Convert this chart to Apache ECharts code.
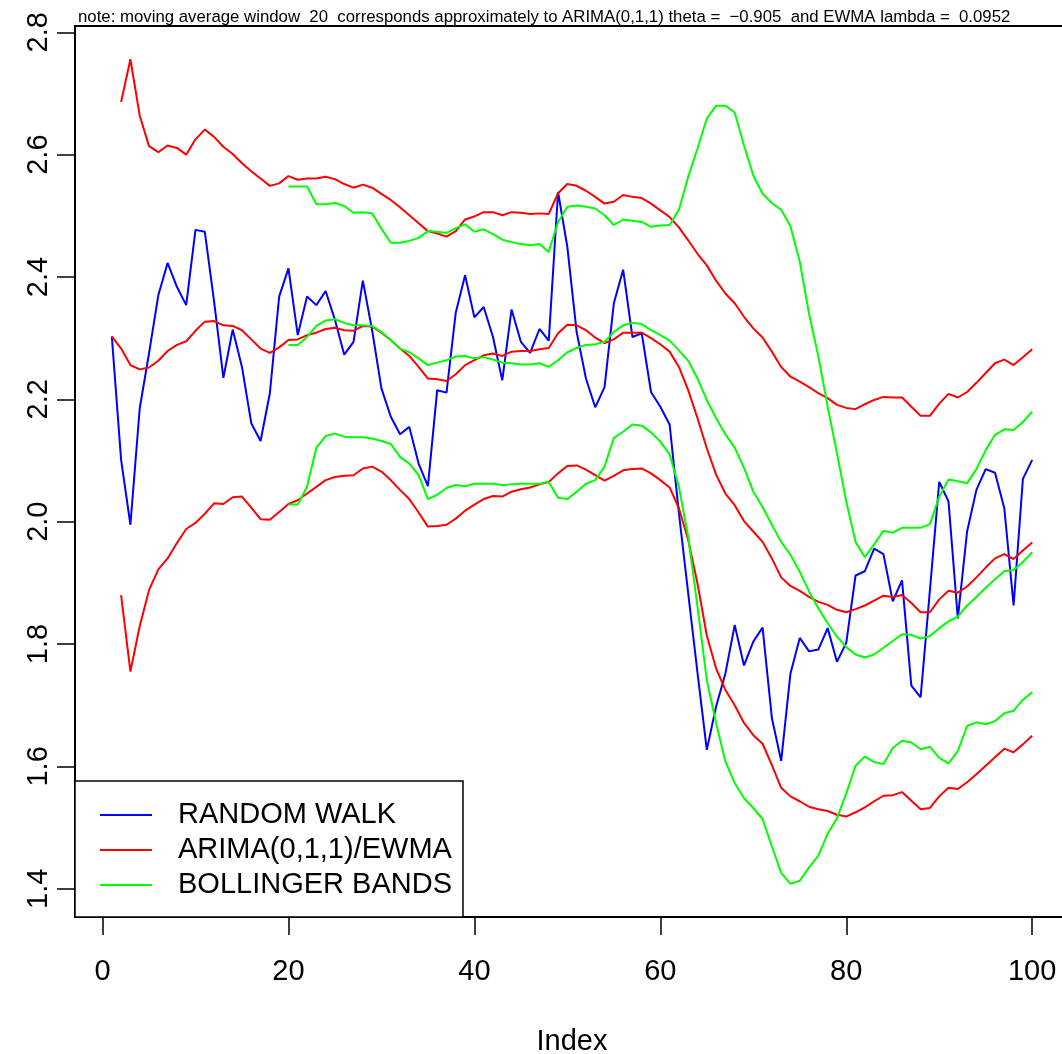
<!DOCTYPE html>
<html><head><meta charset="utf-8">
<script src="https://cdn.jsdelivr.net/npm/echarts@6/dist/echarts.min.js"></script>
<style>html,body{margin:0;padding:0;background:#fff}#c{width:1062px;height:1054px}</style>
</head><body><div id="c"></div>
<script>
const noteText = 'note: moving average window  20  corresponds approximately to ARIMA(0,1,1) theta =  \u22120.905  and EWMA lambda =  0.0952';
const xTicks = [0, 20, 40, 60, 80, 100];
const yTicks = [1.4, 1.6, 1.8, 2.0, 2.2, 2.4, 2.6, 2.8];
const legendNames = ['RANDOM WALK', 'ARIMA(0,1,1)/EWMA', 'BOLLINGER BANDS'];

// random walk, index 1..100
const rwStart = 1;
const randomWalk = [
 2.303, 2.101, 1.995, 2.185, 2.275, 2.370, 2.423, 2.384, 2.354, 2.477,
 2.474, 2.360, 2.235, 2.314, 2.253, 2.161, 2.132, 2.210, 2.368, 2.414,
 2.305, 2.368, 2.354, 2.377, 2.330, 2.273, 2.294, 2.394, 2.313, 2.218,
 2.172, 2.143, 2.155, 2.095, 2.058, 2.215, 2.211, 2.342, 2.403, 2.334,
 2.351, 2.302, 2.231, 2.347, 2.294, 2.276, 2.315, 2.296, 2.539, 2.449,
 2.310, 2.234, 2.187, 2.220, 2.357, 2.412, 2.302, 2.308, 2.212, 2.188,
 2.159, 2.014, 1.883, 1.753, 1.627, 1.698, 1.752, 1.831, 1.765, 1.804,
 1.827, 1.679, 1.609, 1.752, 1.810, 1.788, 1.791, 1.826, 1.771, 1.802,
 1.912, 1.919, 1.956, 1.947, 1.870, 1.904, 1.732, 1.713, 1.888, 2.065,
 2.033, 1.842, 1.984, 2.052, 2.086, 2.080, 2.022, 1.863, 2.070, 2.101
];

// EWMA forecast, index 1..100
const ewmaStart = 1;
const ewma = [
 2.303, 2.283, 2.256, 2.249, 2.252, 2.263, 2.279, 2.289, 2.295, 2.312,
 2.327, 2.328, 2.321, 2.320, 2.313, 2.298, 2.283, 2.276, 2.285, 2.297,
 2.298, 2.305, 2.309, 2.315, 2.317, 2.313, 2.312, 2.320, 2.319, 2.309,
 2.297, 2.283, 2.271, 2.253, 2.234, 2.233, 2.230, 2.241, 2.256, 2.264,
 2.272, 2.275, 2.271, 2.278, 2.279, 2.279, 2.282, 2.284, 2.308, 2.322,
 2.321, 2.313, 2.301, 2.292, 2.298, 2.309, 2.309, 2.309, 2.300, 2.290,
 2.278, 2.253, 2.215, 2.169, 2.120, 2.077, 2.046, 2.027, 2.001, 1.984,
 1.967, 1.940, 1.909, 1.895, 1.887, 1.877, 1.869, 1.864, 1.856, 1.852,
 1.857, 1.863, 1.871, 1.879, 1.877, 1.880, 1.867, 1.852, 1.852, 1.873,
 1.887, 1.884, 1.894, 1.909, 1.925, 1.940, 1.947, 1.939, 1.953, 1.966
];

// EWMA limits, index 2..100
const ewmaBandStart = 2;
const ewmaUpper = [
 2.686, 2.756, 2.664, 2.614, 2.604, 2.615, 2.611, 2.600, 2.625,
 2.641, 2.629, 2.613, 2.601, 2.586, 2.573, 2.561, 2.549, 2.553, 2.565,
 2.559, 2.561, 2.561, 2.564, 2.560, 2.552, 2.546, 2.551, 2.546, 2.536,
 2.526, 2.514, 2.501, 2.488, 2.475, 2.471, 2.466, 2.475, 2.494, 2.499,
 2.506, 2.506, 2.501, 2.506, 2.505, 2.503, 2.504, 2.503, 2.537, 2.552,
 2.549, 2.541, 2.531, 2.520, 2.523, 2.534, 2.531, 2.529, 2.520, 2.509,
 2.498, 2.481, 2.460, 2.438, 2.419, 2.394, 2.373, 2.357, 2.335, 2.316,
 2.301, 2.278, 2.253, 2.237, 2.229, 2.220, 2.210, 2.202, 2.191, 2.186,
 2.184, 2.192, 2.199, 2.204, 2.203, 2.203, 2.188, 2.173, 2.173, 2.193,
 2.209, 2.203, 2.212, 2.227, 2.243, 2.259, 2.265, 2.256, 2.269, 2.282
];
const ewmaLower = [
 1.880, 1.755, 1.829, 1.888, 1.922, 1.940, 1.965, 1.988, 1.998,
 2.013, 2.030, 2.029, 2.040, 2.041, 2.023, 2.004, 2.003, 2.016, 2.029,
 2.035, 2.046, 2.057, 2.068, 2.073, 2.075, 2.076, 2.087, 2.090, 2.082,
 2.068, 2.052, 2.037, 2.015, 1.992, 1.993, 1.995, 2.005, 2.018, 2.028,
 2.037, 2.042, 2.041, 2.049, 2.053, 2.056, 2.061, 2.065, 2.079, 2.091,
 2.092, 2.085, 2.076, 2.067, 2.075, 2.084, 2.086, 2.087, 2.079, 2.068,
 2.056, 2.022, 1.970, 1.899, 1.814, 1.760, 1.725, 1.700, 1.671, 1.651,
 1.637, 1.602, 1.565, 1.551, 1.543, 1.534, 1.530, 1.527, 1.521, 1.518,
 1.525, 1.533, 1.543, 1.552, 1.553, 1.558, 1.544, 1.530, 1.532, 1.551,
 1.565, 1.563, 1.574, 1.587, 1.601, 1.615, 1.629, 1.623, 1.636, 1.650
];

// Bollinger bands, index 20..100
const bbStart = 20;
const bbMiddle = [
 2.289, 2.289, 2.302, 2.320, 2.329, 2.331, 2.325, 2.321, 2.321, 2.320,
 2.310, 2.297, 2.283, 2.277, 2.267, 2.256, 2.260, 2.264, 2.270, 2.271,
 2.267, 2.269, 2.265, 2.260, 2.259, 2.257, 2.257, 2.259, 2.253, 2.264,
 2.277, 2.284, 2.289, 2.290, 2.294, 2.310, 2.321, 2.325, 2.323, 2.313,
 2.305, 2.296, 2.280, 2.263, 2.234, 2.199, 2.169, 2.143, 2.121, 2.088,
 2.049, 2.024, 1.995, 1.967, 1.946, 1.918, 1.886, 1.858, 1.834, 1.812,
 1.795, 1.783, 1.778, 1.783, 1.794, 1.805, 1.816, 1.815, 1.809, 1.813,
 1.826, 1.837, 1.845, 1.863, 1.877, 1.892, 1.906, 1.919, 1.921, 1.934,
 1.950
];
const bbUpper = [
 2.548, 2.548, 2.548, 2.519, 2.519, 2.521, 2.516, 2.505, 2.506, 2.504,
 2.479, 2.456, 2.456, 2.459, 2.464, 2.475, 2.474, 2.472, 2.480, 2.486,
 2.474, 2.478, 2.470, 2.461, 2.457, 2.454, 2.452, 2.454, 2.441, 2.490,
 2.515, 2.517, 2.515, 2.512, 2.501, 2.485, 2.494, 2.492, 2.490, 2.482,
 2.484, 2.485, 2.510, 2.564, 2.610, 2.659, 2.680, 2.680, 2.669, 2.615,
 2.566, 2.536, 2.521, 2.510, 2.483, 2.425, 2.340, 2.270, 2.188, 2.112,
 2.033, 1.967, 1.942, 1.963, 1.985, 1.982, 1.990, 1.990, 1.990, 1.996,
 2.041, 2.069, 2.066, 2.063, 2.086, 2.117, 2.142, 2.151, 2.150, 2.163,
 2.180
];
const bbLower = [
 2.028, 2.028, 2.057, 2.121, 2.140, 2.144, 2.139, 2.138, 2.138, 2.136,
 2.132, 2.127, 2.106, 2.095, 2.076, 2.037, 2.044, 2.055, 2.060, 2.058,
 2.062, 2.062, 2.062, 2.060, 2.061, 2.062, 2.062, 2.062, 2.065, 2.039,
 2.037, 2.049, 2.062, 2.068, 2.090, 2.137, 2.147, 2.159, 2.157, 2.146,
 2.131, 2.110, 2.057, 1.975, 1.861, 1.741, 1.671, 1.608, 1.573, 1.548,
 1.532, 1.514, 1.469, 1.426, 1.408, 1.413, 1.435, 1.454, 1.490, 1.515,
 1.556, 1.601, 1.616, 1.607, 1.604, 1.630, 1.642, 1.639, 1.628, 1.632,
 1.614, 1.605, 1.625, 1.666, 1.672, 1.669, 1.674, 1.687, 1.691, 1.709,
 1.721
];

function pairs(arr, start) { return arr.map((v, k) => [start + k, v]); }

const FONT = '"Liberation Sans", Helvetica, Arial, sans-serif';
const BLUE = '#0000ff', RED = '#ff0000', GREEN = '#00ff00';

function line(name, color, arr, start) {
  return {
    type: 'line', name: name, data: pairs(arr, start),
    symbol: 'none', showSymbol: false, smooth: false,
    lineStyle: { color: color, width: 2 }, itemStyle: { color: color },
    emphasis: { disabled: true }, silent: true, animation: false
  };
}

const chart = echarts.init(document.getElementById('c'), null, { renderer: 'canvas' });
chart.setOption({
  backgroundColor: '#ffffff',
  animation: false,
  title: {
    text: noteText, left: 73, top: 4,
    textStyle: { fontFamily: FONT, fontSize: 16.8, fontWeight: 'normal', color: '#000' }
  },
  grid: {
    left: 75, top: 26, width: 994, height: 891,
    show: true, borderColor: '#000', borderWidth: 2, backgroundColor: 'transparent',
    containLabel: false, outerBoundsMode: 'none'
  },
  xAxis: {
    type: 'value', min: -2.96, max: 103.96,
    name: 'Index', nameLocation: 'middle', nameGap: 110,
    nameTextStyle: { fontFamily: FONT, fontSize: 29, color: '#000' },
    axisLine: { show: false, onZero: false },
    axisTick: { show: true, customValues: xTicks, length: 18, inside: false, lineStyle: { color: '#000', width: 1.5 } },
    axisLabel: { show: true, customValues: xTicks, margin: 40, fontFamily: FONT, fontSize: 29, color: '#000' },
    splitLine: { show: false }
  },
  yAxis: {
    type: 'value', min: 1.3538, max: 2.8103,
    axisLine: { show: false, onZero: false },
    axisTick: { show: true, customValues: yTicks, length: 18, inside: false, lineStyle: { color: '#000', width: 1.5 } },
    axisLabel: { show: true, customValues: yTicks, rotate: 90, margin: 22, fontFamily: FONT, fontSize: 29, color: '#000',
      formatter: v => Number(v).toFixed(1) },
    splitLine: { show: false }
  },
  legend: {
    orient: 'vertical', left: 75, top: 781,
    padding: [19, 11, 17, 25],
    icon: 'rect',
    itemWidth: 52, itemHeight: 2, itemGap: 5,
    backgroundColor: '#ffffff', borderColor: '#000', borderWidth: 1.5, borderRadius: 0,
    textStyle: { fontFamily: FONT, fontSize: 29, color: '#000', padding: [0, 0, 0, 21], lineHeight: 30 },
    selectedMode: false,
    data: legendNames
  },
  series: [
    line(legendNames[0], BLUE, randomWalk, rwStart),
    line(legendNames[1], RED, ewma, ewmaStart),
    line(legendNames[1], RED, ewmaUpper, ewmaBandStart),
    line(legendNames[1], RED, ewmaLower, ewmaBandStart),
    line(legendNames[2], GREEN, bbMiddle, bbStart),
    line(legendNames[2], GREEN, bbUpper, bbStart),
    line(legendNames[2], GREEN, bbLower, bbStart)
  ]
});
</script></body></html>
